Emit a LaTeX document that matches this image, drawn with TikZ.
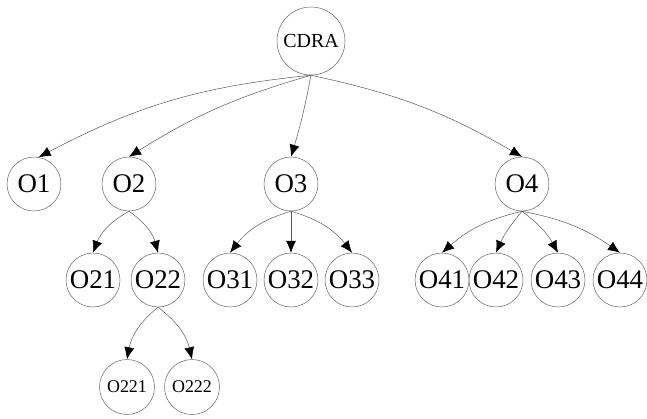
\documentclass[tikz,border=0pt]{standalone}
\usepackage{fontspec}
\setmainfont{Liberation Serif}
\usetikzlibrary{arrows.meta}

\begin{document}
\begin{tikzpicture}[x=1bp,y=1bp,yscale=-1,
	obj/.style={circle,draw=black!60,line width=0.5bp,inner sep=0pt,minimum size=54bp,font=\fontsize{27}{27}\selectfont},
	sub/.style={obj,minimum size=55bp,font=\fontsize{18}{18}\selectfont},
	root/.style={obj,minimum size=68bp,font=\fontsize{20}{20}\selectfont},
	link/.style={draw=black!65,line width=0.5bp,-{Latex[length=12bp,width=10bp,black]}}]
	\useasboundingbox (0,0) rectangle (647,418);
	
	% root
	\node[root] (cdra) at (311,41) {CDRA};
	
	% first level
	\node[obj] (o1) at (34,184) {O1};
	\node[obj] (o2) at (129,184) {O2};
	\node[obj] (o3) at (291,184) {O3};
	\node[obj] (o4) at (522,184) {O4};
	
	% second level
	\node[obj] (o21) at (93,280) {O21};
	\node[obj] (o22) at (158,280) {O22};
	\node[obj] (o31) at (230,280) {O31};
	\node[obj] (o32) at (291,280) {O32};
	\node[obj] (o33) at (352,280) {O33};
	\node[obj] (o41) at (442,280) {O41};
	\node[obj] (o42) at (496,280) {O42};
	\node[obj] (o43) at (558,280) {O43};
	\node[obj] (o44) at (620,280) {O44};
	
	% third level
	\node[sub] (o221) at (127,387) {O221};
	\node[sub] (o222) at (192,387) {O222};
	
	% yscale=-1 flips the bend sides
	\draw[link] (cdra.south) to[bend left=11] (o1.80);
	\draw[link] (cdra.south) to[bend left=8] (o2.north);
	\draw[link] (cdra.south) to[bend right=3] (o3.north);
	\draw[link] (cdra.south) to[bend right=9] (o4.north);
	
	\draw[link] (o2.south) to[bend left=20] (o21.north);
	\draw[link] (o2.south) to[bend right=20] (o22.north);
	
	\draw[link] (o3.south) to[bend left=18] (o31.north);
	\draw[link] (o3.south) -- (o32.north);
	\draw[link] (o3.south) to[bend right=18] (o33.north);
	
	\draw[link] (o4.south) to[bend left=14] (o41.north);
	\draw[link] (o4.south) to[bend left=8] (o42.north);
	\draw[link] (o4.south) to[bend right=12] (o43.north);
	\draw[link] (o4.south) to[bend right=12] (o44.north);
	
	\draw[link] (o22.south) to[bend left=20] (o221.north);
	\draw[link] (o22.south) to[bend right=20] (o222.north);
\end{tikzpicture}
\end{document}
